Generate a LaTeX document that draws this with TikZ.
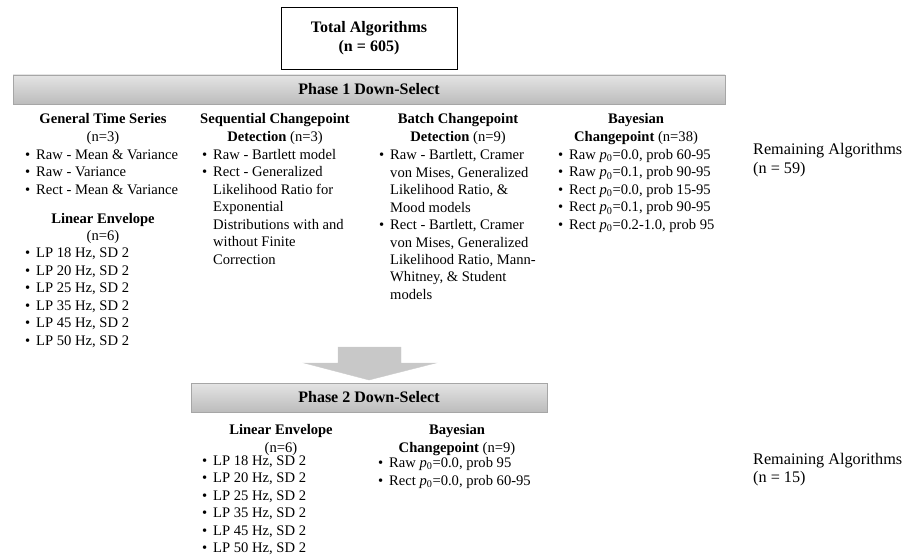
\documentclass[tikz,border=0pt]{standalone}
\usepackage{fontspec}
\setmainfont{Liberation Serif}
\definecolor{barline}{HTML}{A6A6A6}
\definecolor{bartop}{HTML}{E4E4E4}
\definecolor{barbot}{HTML}{BCBCBC}
\definecolor{arrfill}{HTML}{C8C8C8}
\newcommand{\itembul}{\makebox[11pt][l]{\textbullet}}
\newcommand{\itemind}{\hspace*{11pt}}
\newcommand{\pzero}{\textit{p}\textsubscript{0}}

\begin{document}
\begin{tikzpicture}[x=1pt,y=-1pt,font=\fontsize{14.6}{17.5}\selectfont,
    totbox/.style={draw=black,line width=0.9pt,minimum width=176pt,minimum height=62pt,
                   align=center,font=\fontsize{16}{19}\selectfont\bfseries},
    phasebar/.style={draw=barline,line width=0.8pt,top color=bartop,bottom color=barbot,
                     minimum height=29pt,font=\fontsize{16}{19}\selectfont\bfseries},
    colhead/.style={anchor=base,align=center,inner sep=0pt},
    collist/.style={anchor=base west,align=left,inner sep=0pt},
    remain/.style={anchor=base west,align=left,inner sep=0pt,
                   font=\fontsize{16.2}{18.5}\selectfont}]
  \useasboundingbox (0,0) rectangle (908,556);
  \node[totbox] (total) at (369,38) {Total Algorithms\\(n = 605)};
  \node[phasebar,minimum width=712pt] (p1) at (369,89.5) {Phase 1 Down-Select};
  % phase 1 columns (y = baseline of the last line)
  \node[colhead] (gtshead) at (103,141.5) {\textbf{General Time Series}\\(n=3)};
  \node[collist] (gtslist) at (25,194.5) {\itembul Raw - Mean \& Variance\\
    \itembul Raw - Variance\\\itembul Rect - Mean \& Variance};
  \node[colhead] (lehead) at (103,241) {\textbf{Linear Envelope}\\(n=6)};
  \node[collist] (lelist) at (25,345) {\itembul LP 18 Hz, SD 2\\\itembul LP 20 Hz, SD 2\\
    \itembul LP 25 Hz, SD 2\\\itembul LP 35 Hz, SD 2\\\itembul LP 45 Hz, SD 2\\\itembul LP 50 Hz, SD 2};
  \node[colhead] (seqhead) at (275,141.5) {\textbf{Sequential Changepoint}\\\textbf{Detection} (n=3)};
  \node[collist] (seqlist) at (202,264.5) {\itembul Raw - Bartlett model\\
    \itembul Rect - Generalized\\\itemind Likelihood Ratio for\\\itemind Exponential\\
    \itemind Distributions with and\\\itemind without Finite\\\itemind Correction};
  \node[colhead] (bathead) at (458,141.5) {\textbf{Batch Changepoint}\\\textbf{Detection} (n=9)};
  \node[collist] (batlist) at (379,299.5) {\itembul Raw - Bartlett, Cramer\\
    \itemind von Mises, Generalized\\\itemind Likelihood Ratio, \&\\\itemind Mood models\\
    \itembul Rect - Bartlett, Cramer\\\itemind von Mises, Generalized\\
    \itemind Likelihood Ratio, Mann-\\\itemind Whitney, \& Student\\\itemind models};
  \node[colhead] (bayhead) at (636,141.5) {\textbf{Bayesian}\\\textbf{Changepoint} (n=38)};
  \node[collist] (baylist) at (558,229.5) {\itembul Raw \pzero=0.0, prob 60-95\\
    \itembul Raw \pzero=0.1, prob 90-95\\\itembul Rect \pzero=0.0, prob 15-95\\
    \itembul Rect \pzero=0.1, prob 90-95\\\itembul Rect \pzero=0.2-1.0, prob 95};
  \node[remain] (rem1) at (753,173.5) {Remaining Algorithms\\(n = 59)};
  % block arrow between the phases
  \coordinate (arrtip) at (369,380);
  \fill[arrfill,draw=black!20,line width=0.4pt] (arrtip) -- ++(67,-17) -- ++(-35,0) -- ++(0,-16)
    -- ++(-63,0) -- ++(0,16) -- ++(-34,0) -- cycle;
  \node[phasebar,minimum width=356pt] (p2) at (369,397.5) {Phase 2 Down-Select};
  % phase 2 columns
  \node[colhead] (le2head) at (281,452) {\textbf{Linear Envelope}\\(n=6)};
  \node[collist] (le2list) at (202,552.5) {\itembul LP 18 Hz, SD 2\\\itembul LP 20 Hz, SD 2\\
    \itembul LP 25 Hz, SD 2\\\itembul LP 35 Hz, SD 2\\\itembul LP 45 Hz, SD 2\\\itembul LP 50 Hz, SD 2};
  \node[colhead] (bay2head) at (457,452) {\textbf{Bayesian}\\\textbf{Changepoint} (n=9)};
  \node[collist] (bay2list) at (378,485) {\itembul Raw \pzero=0.0, prob 95\\
    \itembul Rect \pzero=0.0, prob 60-95};
  \node[remain] (rem2) at (753,482.5) {Remaining Algorithms\\(n = 15)};
\end{tikzpicture}
\end{document}
